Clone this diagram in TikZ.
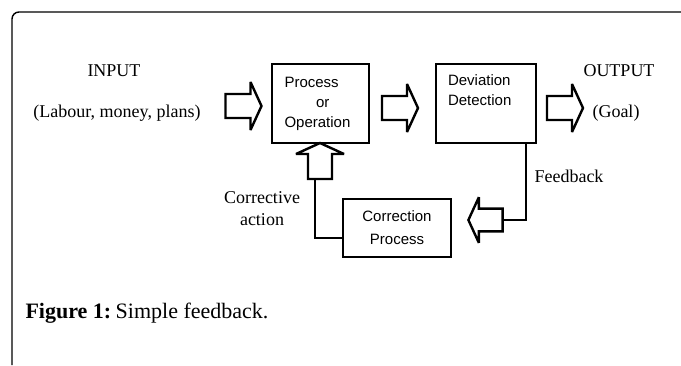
\documentclass[tikz,border=0pt]{standalone}
\usepackage{fontspec}
\setmainfont{Liberation Serif}
\setsansfont{Liberation Sans}
\usetikzlibrary{positioning, calc}

\begin{document}
\begin{tikzpicture}[
    x=1pt, y=-1pt,
    box/.style={
        rectangle,
        draw,
        line width=2.6pt,
        inner sep=0pt,
        align=left,
        font=\sffamily\fontsize{15}{20}\selectfont
    },
    pics/fatarrow/.style={
        code={
            \draw[line width=2.4pt, miter limit=4]
                (-18,-12) -- (7,-12) -- (7,-24) -- (18,0) -- (7,24)
                -- (7,12) -- (-18,12) -- cycle;
            \coordinate (-tail) at (-18,0);
            \coordinate (-tip) at (18,0);
        }
    },
    lbl/.style={
        align=center,
        font=\fontsize{18}{22}\selectfont
    },
    wire/.style={line width=2pt}
]
\useasboundingbox (0,0) rectangle (681,365);

% Frame
\draw[line width=1.4pt, rounded corners=7pt] (12,365) -- (12,12) -- (681,12);

% Main blocks
\node (proc) [box, minimum width=97pt, minimum height=79pt, text width=72pt]
    at (320.5,103.5) {Process\\\hspace*{2.1em}or\\Operation};

\node (devi) [box, minimum width=100pt, minimum height=79pt, text width=76pt]
    at (486,103.5) {Deviation\\Detection\\\strut};

\node (corr) [box, align=center, minimum width=108pt, minimum height=58pt,
    font=\sffamily\fontsize{15}{23}\selectfont]
    at (397,228) {Correction\\Process};

% Block arrows
\pic (inarr) at (243.5,106) {fatarrow};
\pic (midarr) at (400,108) {fatarrow};
\pic (outarr) at (565,108) {fatarrow};
\pic (uparr) [rotate=90] at (320,161) {fatarrow};
\pic (backarr) [rotate=180, scale=0.95] at (485.5,220) {fatarrow};

% Labels
\node (inp) [lbl] at (114,71) {INPUT};
\node (inpx) [lbl] at (117,113) {(Labour, money, plans)};
\node (outp) [lbl] at (619,71) {OUTPUT};
\node (goal) [lbl] at (616,113) {(Goal)};
\node (fb) [lbl] at (569,176) {Feedback};
\node (cact) [lbl] at (262,209) {Corrective\\action};

% Feedback loop
\draw[wire] ([xshift=-11pt]devi.south east) |- (backarr-tail);
\draw[wire] ([xshift=-5pt]uparr-tail) |- ([yshift=-10pt]corr.west);

% Caption
\node (cap) [anchor=west, font=\fontsize{22}{26}\selectfont]
    at (22,313) {\textbf{Figure 1:}\hspace{0.2em}Simple feedback.};

\end{tikzpicture}
\end{document}
